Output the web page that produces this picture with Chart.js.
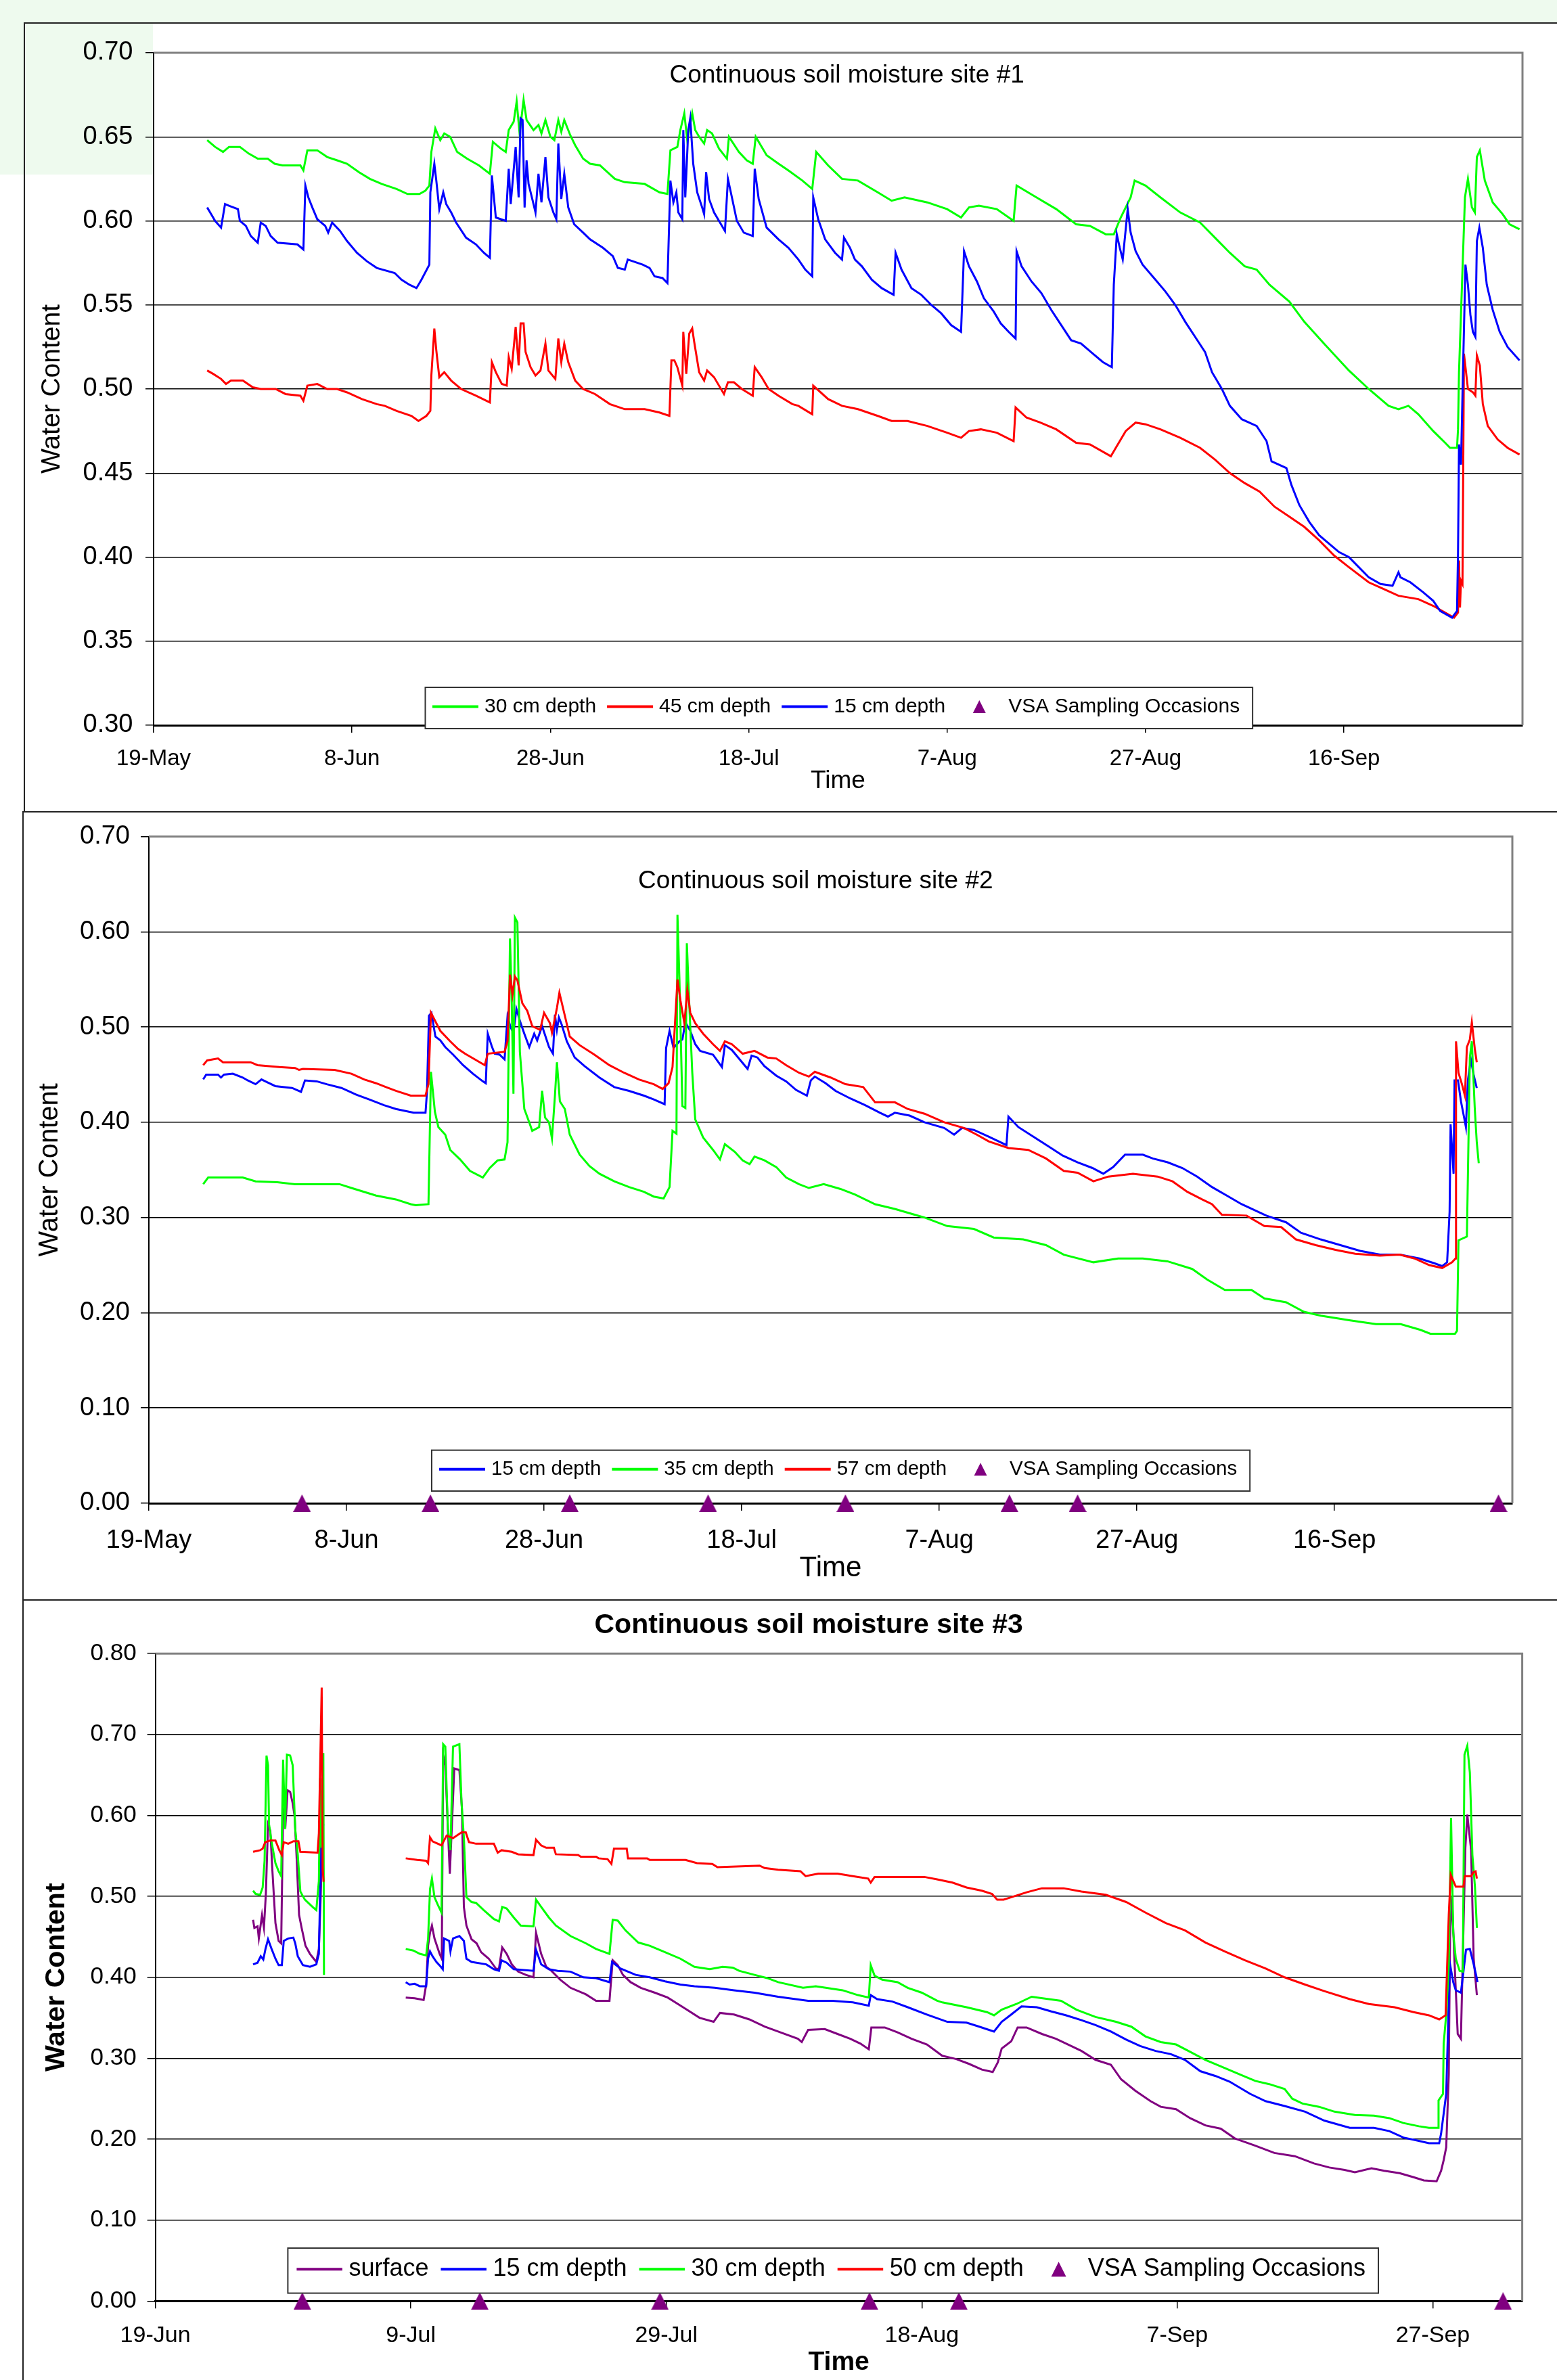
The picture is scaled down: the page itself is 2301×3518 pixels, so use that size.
<!DOCTYPE html>
<html>
<head>
<meta charset="utf-8">
<title>Continuous soil moisture</title>
<script src="https://cdn.jsdelivr.net/npm/chart.js@4.4.0/dist/chart.umd.min.js"></script>
<style>
  body { margin: 0; width: 2301px; height: 3518px; background: #fff; position: relative; overflow: hidden; }
  .bg { position: absolute; background: #eefaee; }
  .frame { position: absolute; border: 2px solid #222; box-sizing: border-box; }
  canvas { position: absolute; }
</style>
</head>
<body>
<div class="bg" style="left:0;top:0;width:2301px;height:33px"></div>
<div class="bg" style="left:0;top:0;width:226px;height:258px"></div>
<div class="frame" style="left:35px;top:33px;width:2280px;height:1168px"></div>
<div class="frame" style="left:33px;top:1199px;width:2282px;height:1167px"></div>
<div class="frame" style="left:33px;top:2364px;width:2282px;height:1200px"></div>
<canvas id="site1" width="2266" height="1166" style="left:35px;top:33px"></canvas>
<canvas id="site2" width="2268" height="1165" style="left:33px;top:1200px"></canvas>
<canvas id="site3" width="2268" height="1153" style="left:33px;top:2365px"></canvas>
<script>
// x values are days from the first tick date (19-May for sites 1 and 2, 19-Jun for site 3)
const site1TickLabels = ['19-May', '8-Jun', '28-Jun', '18-Jul', '7-Aug', '27-Aug', '16-Sep'];
const site2TickLabels = ['19-May', '8-Jun', '28-Jun', '18-Jul', '7-Aug', '27-Aug', '16-Sep'];
const site3TickLabels = ['19-Jun', '9-Jul', '29-Jul', '18-Aug', '7-Sep', '27-Sep'];

const site1_30cm = [[5.4,0.648],[6.2,0.644],[7.0,0.641],[7.6,0.644],[8.7,0.644],[9.6,0.640],[10.5,0.637],[11.5,0.637],[12.2,0.634],[13.0,0.633],[14.8,0.633],[15.1,0.630],[15.5,0.642],[16.5,0.642],[17.5,0.638],[18.5,0.636],[19.5,0.634],[20.7,0.629],[21.8,0.625],[23.0,0.622],[24.5,0.619],[25.6,0.616],[26.8,0.616],[27.4,0.618],[27.8,0.621],[28.0,0.641],[28.4,0.655],[28.9,0.648],[29.3,0.652],[29.9,0.650],[30.6,0.641],[31.6,0.637],[32.8,0.633],[33.9,0.628],[34.2,0.647],[35.0,0.643],[35.5,0.641],[35.8,0.654],[36.3,0.659],[36.6,0.671],[36.9,0.652],[37.3,0.672],[37.6,0.660],[38.3,0.654],[38.8,0.657],[39.1,0.652],[39.5,0.660],[40.0,0.650],[40.4,0.648],[40.8,0.660],[41.1,0.653],[41.4,0.660],[42.0,0.651],[42.5,0.645],[43.3,0.637],[44.0,0.634],[45.0,0.633],[46.5,0.625],[47.5,0.623],[49.5,0.622],[51.0,0.617],[51.8,0.616],[52.1,0.642],[52.8,0.644],[53.1,0.654],[53.5,0.664],[53.8,0.648],[54.3,0.664],[54.6,0.654],[55.0,0.650],[55.5,0.646],[55.8,0.654],[56.3,0.652],[57.0,0.643],[57.8,0.637],[58.0,0.650],[59.0,0.641],[59.8,0.636],[60.4,0.634],[60.7,0.650],[61.8,0.639],[63.0,0.634],[64.0,0.630],[65.4,0.624],[66.4,0.619],[66.8,0.641],[68.0,0.633],[69.4,0.625],[71.0,0.624],[73.0,0.617],[74.4,0.612],[75.7,0.614],[78.0,0.611],[80.0,0.607],[81.4,0.602],[82.2,0.608],[83.2,0.609],[85.0,0.607],[86.7,0.600],[87.0,0.621],[89.0,0.614],[91.0,0.607],[93.0,0.598],[94.4,0.597],[96.0,0.592],[96.8,0.592],[97.5,0.602],[98.5,0.614],[98.9,0.624],[100.0,0.621],[101.5,0.614],[103.5,0.605],[105.5,0.599],[107.0,0.590],[108.5,0.581],[110.0,0.573],[111.2,0.571],[112.5,0.562],[114.5,0.552],[116.0,0.540],[118.0,0.527],[120.5,0.511],[122.5,0.500],[124.5,0.490],[125.5,0.488],[126.5,0.490],[127.5,0.485],[129.0,0.475],[130.2,0.468],[130.7,0.465],[131.4,0.465],[131.5,0.476],[131.6,0.510],[132.2,0.614],[132.5,0.625],[132.9,0.608],[133.2,0.605],[133.4,0.638],[133.7,0.642],[134.2,0.624],[135.0,0.611],[136.0,0.604],[136.7,0.598],[137.7,0.595]];

const site1_45cm = [[5.4,0.511],[6.0,0.509],[6.8,0.506],[7.3,0.503],[7.8,0.505],[9.0,0.505],[10.0,0.501],[10.8,0.500],[12.3,0.500],[13.3,0.497],[14.8,0.496],[15.1,0.493],[15.5,0.502],[16.5,0.503],[17.5,0.500],[18.5,0.500],[19.5,0.498],[21.0,0.494],[22.5,0.491],[23.3,0.490],[24.5,0.487],[26.0,0.484],[26.7,0.481],[27.5,0.484],[27.9,0.487],[28.0,0.508],[28.3,0.536],[28.5,0.523],[28.8,0.507],[29.3,0.510],[30.0,0.505],[31.0,0.500],[32.5,0.496],[33.9,0.492],[34.1,0.516],[34.5,0.510],[35.1,0.503],[35.6,0.502],[35.8,0.519],[36.1,0.512],[36.5,0.537],[36.8,0.514],[37.0,0.539],[37.3,0.539],[37.5,0.522],[38.0,0.513],[38.5,0.508],[39.0,0.511],[39.5,0.527],[39.8,0.511],[40.5,0.506],[40.8,0.530],[41.1,0.516],[41.4,0.527],[41.8,0.516],[42.5,0.505],[43.3,0.500],[44.5,0.497],[46.0,0.491],[47.5,0.488],[49.5,0.488],[51.0,0.486],[52.0,0.484],[52.2,0.517],[52.5,0.517],[52.8,0.513],[53.3,0.502],[53.4,0.534],[53.7,0.509],[54.0,0.533],[54.3,0.536],[54.5,0.528],[55.0,0.510],[55.5,0.505],[55.8,0.511],[56.5,0.507],[57.5,0.497],[57.9,0.504],[58.5,0.504],[59.3,0.500],[60.4,0.496],[60.6,0.513],[61.3,0.507],[62.0,0.500],[63.0,0.496],[64.4,0.491],[65.0,0.490],[66.4,0.485],[66.5,0.502],[68.0,0.494],[69.4,0.490],[71.0,0.488],[73.0,0.484],[74.4,0.481],[76.0,0.481],[78.0,0.478],[80.0,0.474],[81.4,0.471],[82.2,0.475],[83.4,0.476],[85.0,0.474],[86.7,0.469],[86.9,0.489],[88.0,0.483],[89.4,0.480],[91.0,0.476],[93.0,0.468],[94.4,0.467],[96.5,0.460],[97.0,0.465],[98.0,0.475],[99.0,0.480],[100.0,0.479],[101.5,0.476],[103.5,0.471],[105.5,0.465],[107.0,0.458],[108.5,0.450],[110.0,0.444],[111.5,0.439],[113.0,0.430],[114.5,0.424],[116.0,0.418],[117.5,0.410],[119.0,0.401],[120.5,0.394],[122.5,0.385],[124.0,0.381],[125.5,0.377],[127.5,0.375],[129.0,0.371],[130.2,0.367],[131.1,0.364],[131.5,0.367],[131.6,0.398],[131.7,0.370],[131.8,0.386],[131.95,0.384],[132.1,0.521],[132.5,0.500],[133.0,0.498],[133.25,0.496],[133.4,0.520],[133.7,0.514],[134.0,0.491],[134.5,0.478],[135.5,0.470],[136.5,0.465],[137.7,0.461]];

const site1_15cm = [[5.4,0.608],[5.8,0.604],[6.2,0.600],[6.8,0.596],[7.2,0.610],[7.6,0.609],[8.5,0.607],[8.7,0.600],[9.3,0.597],[9.8,0.591],[10.5,0.587],[10.8,0.599],[11.3,0.597],[11.8,0.591],[12.5,0.587],[14.5,0.586],[15.1,0.583],[15.3,0.621],[15.6,0.614],[16.0,0.608],[16.5,0.601],[17.3,0.597],[17.6,0.593],[18.0,0.599],[18.8,0.594],[19.5,0.588],[20.5,0.581],[21.5,0.576],[22.5,0.572],[24.3,0.569],[25.0,0.565],[25.8,0.562],[26.5,0.560],[27.0,0.565],[27.8,0.574],[27.9,0.617],[28.3,0.634],[28.5,0.624],[28.8,0.607],[29.2,0.617],[29.5,0.610],[30.0,0.605],[30.5,0.599],[31.5,0.590],[32.5,0.586],[33.3,0.581],[33.9,0.578],[34.1,0.627],[34.5,0.602],[35.5,0.600],[35.8,0.631],[36.0,0.610],[36.5,0.644],[36.8,0.614],[37.0,0.661],[37.2,0.660],[37.4,0.608],[37.6,0.636],[37.8,0.622],[38.3,0.610],[38.5,0.605],[38.8,0.628],[39.1,0.611],[39.5,0.638],[39.8,0.614],[40.3,0.605],[40.6,0.601],[40.8,0.646],[41.1,0.613],[41.4,0.628],[41.8,0.608],[42.4,0.598],[43.3,0.593],[44.0,0.589],[45.3,0.584],[46.3,0.579],[46.8,0.572],[47.5,0.571],[47.8,0.577],[49.3,0.574],[50.0,0.572],[50.5,0.567],[51.3,0.566],[51.8,0.563],[52.1,0.624],[52.4,0.611],[52.7,0.617],[52.9,0.605],[53.3,0.601],[53.4,0.654],[53.6,0.614],[53.9,0.654],[54.1,0.661],[54.4,0.634],[54.8,0.617],[55.3,0.608],[55.5,0.604],[55.7,0.629],[56.0,0.613],[56.5,0.605],[57.1,0.599],[57.6,0.594],[57.9,0.625],[58.3,0.614],[58.8,0.600],[59.5,0.593],[60.4,0.591],[60.6,0.631],[61.0,0.613],[61.8,0.596],[63.0,0.589],[64.0,0.584],[65.0,0.577],[65.7,0.571],[66.4,0.567],[66.5,0.614],[67.0,0.601],[67.7,0.589],[68.7,0.581],[69.4,0.577],[69.6,0.590],[70.2,0.584],[70.7,0.577],[71.4,0.573],[72.4,0.565],[73.4,0.560],[74.0,0.558],[74.6,0.556],[74.8,0.581],[75.4,0.571],[76.4,0.560],[77.4,0.556],[78.4,0.550],[79.4,0.545],[80.4,0.538],[81.4,0.534],[81.7,0.582],[82.2,0.573],[83.0,0.564],[83.7,0.554],[84.7,0.546],[85.4,0.539],[86.2,0.534],[86.9,0.530],[87.0,0.582],[87.5,0.573],[88.5,0.564],[89.5,0.557],[90.5,0.547],[91.5,0.538],[92.5,0.529],[93.5,0.527],[94.7,0.521],[95.7,0.516],[96.6,0.513],[96.8,0.562],[97.1,0.592],[97.4,0.584],[97.7,0.577],[98.2,0.607],[98.5,0.593],[99.0,0.582],[99.7,0.574],[101.0,0.565],[102.0,0.558],[103.0,0.550],[104.0,0.540],[105.0,0.531],[106.0,0.522],[106.7,0.510],[107.7,0.500],[108.5,0.490],[109.7,0.482],[111.2,0.478],[112.2,0.469],[112.7,0.457],[114.2,0.453],[114.7,0.443],[115.5,0.431],[116.5,0.421],[117.5,0.413],[118.5,0.408],[119.5,0.403],[120.5,0.400],[121.5,0.394],[122.5,0.388],[123.7,0.384],[124.9,0.383],[125.5,0.391],[125.7,0.388],[126.7,0.385],[128.0,0.379],[129.0,0.374],[129.7,0.368],[130.9,0.364],[131.4,0.368],[131.5,0.402],[131.6,0.467],[131.8,0.455],[132.0,0.510],[132.25,0.574],[132.5,0.562],[132.75,0.544],[133.0,0.534],[133.25,0.531],[133.4,0.588],[133.65,0.596],[134.0,0.584],[134.4,0.562],[135.0,0.547],[135.7,0.534],[136.5,0.525],[137.7,0.517]];

const site2_15cm = [[5.5,0.445],[5.8,0.450],[7.0,0.450],[7.3,0.447],[7.6,0.450],[8.5,0.451],[9.5,0.447],[10.0,0.444],[10.8,0.440],[11.4,0.445],[12.0,0.442],[12.8,0.438],[14.5,0.436],[15.4,0.432],[15.8,0.444],[17.0,0.443],[18.0,0.440],[19.5,0.436],[21.0,0.429],[22.3,0.424],[23.8,0.418],[25.0,0.414],[26.8,0.410],[28.0,0.410],[28.15,0.432],[28.35,0.512],[28.6,0.515],[29.0,0.490],[29.5,0.486],[30.0,0.479],[30.8,0.471],[31.8,0.460],[32.8,0.451],[33.8,0.443],[34.1,0.441],[34.3,0.493],[34.7,0.480],[35.0,0.472],[35.5,0.471],[36.0,0.466],[36.3,0.511],[36.6,0.500],[36.9,0.494],[37.2,0.519],[37.6,0.505],[38.0,0.493],[38.5,0.479],[39.0,0.493],[39.3,0.486],[39.8,0.501],[40.5,0.479],[40.9,0.472],[41.1,0.513],[41.3,0.497],[41.5,0.510],[41.8,0.502],[42.3,0.485],[43.1,0.468],[44.1,0.459],[45.6,0.447],[47.1,0.437],[48.6,0.433],[50.1,0.428],[51.1,0.424],[52.2,0.419],[52.35,0.478],[52.7,0.496],[53.1,0.478],[53.7,0.485],[54.0,0.487],[54.3,0.505],[54.8,0.496],[55.3,0.482],[55.8,0.475],[57.1,0.471],[58.0,0.458],[58.3,0.481],[59.0,0.476],[59.8,0.466],[60.6,0.456],[61.0,0.470],[61.6,0.468],[62.3,0.459],[63.5,0.449],[64.5,0.443],[65.5,0.434],[66.6,0.428],[67.0,0.444],[67.4,0.448],[68.5,0.441],[69.5,0.433],[71.0,0.425],[72.5,0.418],[74.0,0.410],[74.8,0.406],[75.5,0.410],[77.0,0.407],[78.5,0.400],[80.5,0.394],[81.5,0.387],[82.3,0.394],[83.5,0.392],[85.0,0.385],[86.8,0.376],[87.0,0.406],[88.0,0.395],[89.5,0.385],[91.0,0.375],[92.5,0.365],[94.0,0.358],[95.5,0.352],[96.6,0.346],[97.6,0.353],[98.8,0.366],[100.6,0.366],[101.6,0.362],[103.1,0.358],[104.6,0.352],[106.1,0.343],[107.6,0.332],[109.1,0.323],[110.6,0.314],[113.1,0.302],[115.1,0.295],[116.6,0.284],[118.6,0.277],[120.6,0.271],[122.6,0.265],[124.6,0.261],[126.6,0.261],[128.6,0.257],[130.1,0.252],[130.9,0.249],[131.4,0.253],[131.65,0.306],[131.75,0.398],[132.05,0.346],[132.15,0.444],[132.5,0.444],[132.8,0.422],[133.1,0.406],[133.3,0.395],[133.5,0.444],[133.8,0.466],[134.1,0.449],[134.4,0.436]];

const site2_35cm = [[5.5,0.335],[6.0,0.342],[9.5,0.342],[10.8,0.338],[13.0,0.337],[14.8,0.335],[19.3,0.335],[20.5,0.331],[23.0,0.323],[25.0,0.319],[26.5,0.314],[27.0,0.313],[28.3,0.314],[28.55,0.453],[28.95,0.411],[29.3,0.395],[30.0,0.387],[30.5,0.371],[31.5,0.361],[32.5,0.349],[33.8,0.342],[34.5,0.352],[35.3,0.360],[36.0,0.361],[36.3,0.379],[36.55,0.593],[36.7,0.540],[36.9,0.430],[37.05,0.615],[37.3,0.610],[37.55,0.474],[38.0,0.414],[38.5,0.400],[38.8,0.391],[39.5,0.395],[39.8,0.433],[40.1,0.405],[40.5,0.400],[40.8,0.383],[41.1,0.428],[41.3,0.463],[41.6,0.422],[42.1,0.414],[42.6,0.387],[43.6,0.366],[44.6,0.354],[45.6,0.346],[47.1,0.338],[48.6,0.332],[50.1,0.327],[51.1,0.322],[52.1,0.320],[52.7,0.332],[53.0,0.391],[53.4,0.388],[53.5,0.618],[53.7,0.550],[54.0,0.417],[54.3,0.415],[54.45,0.588],[54.7,0.523],[55.0,0.452],[55.3,0.403],[56.1,0.384],[57.1,0.371],[57.8,0.361],[58.3,0.377],[59.3,0.369],[60.1,0.360],[60.8,0.356],[61.3,0.364],[62.3,0.360],[63.5,0.353],[64.5,0.342],[65.8,0.335],[66.8,0.331],[68.3,0.335],[70.0,0.330],[71.5,0.324],[73.5,0.314],[75.5,0.309],[78.5,0.300],[80.8,0.291],[83.5,0.288],[85.5,0.279],[88.5,0.277],[90.8,0.271],[92.6,0.261],[95.6,0.253],[98.1,0.257],[100.6,0.257],[103.1,0.254],[105.6,0.246],[107.1,0.235],[108.9,0.224],[111.6,0.224],[112.9,0.215],[115.1,0.211],[116.9,0.201],[118.6,0.197],[121.6,0.192],[124.2,0.188],[126.7,0.188],[128.7,0.182],[129.7,0.178],[132.2,0.178],[132.4,0.181],[132.55,0.276],[133.4,0.280],[133.7,0.468],[133.9,0.485],[134.2,0.414],[134.4,0.379],[134.6,0.357]];

const site2_57cm = [[5.5,0.460],[5.9,0.465],[7.0,0.467],[7.5,0.463],[10.3,0.463],[11.0,0.460],[13.2,0.458],[14.8,0.457],[15.2,0.455],[15.6,0.456],[18.8,0.455],[20.5,0.451],[21.8,0.445],[23.0,0.441],[24.0,0.437],[25.0,0.433],[26.5,0.428],[28.0,0.428],[28.3,0.440],[28.55,0.515],[29.0,0.506],[29.5,0.496],[30.5,0.485],[31.3,0.477],[32.0,0.472],[33.0,0.466],[34.0,0.460],[34.3,0.472],[36.0,0.474],[36.3,0.485],[36.55,0.555],[36.8,0.534],[37.05,0.553],[37.3,0.549],[37.8,0.525],[38.3,0.517],[38.8,0.501],[39.6,0.497],[40.0,0.515],[40.6,0.504],[40.8,0.494],[41.3,0.520],[41.55,0.536],[42.1,0.512],[42.6,0.490],[43.6,0.481],[45.1,0.471],[46.6,0.460],[48.1,0.452],[49.6,0.445],[51.1,0.440],[52.0,0.435],[52.6,0.441],[53.0,0.458],[53.5,0.550],[53.8,0.528],[54.2,0.504],[54.5,0.539],[54.8,0.515],[55.3,0.504],[56.1,0.493],[57.1,0.482],[57.8,0.475],[58.3,0.485],[59.0,0.482],[60.1,0.472],[61.3,0.475],[62.6,0.468],[63.5,0.467],[64.5,0.460],[65.8,0.452],[66.8,0.448],[67.4,0.453],[69.0,0.447],[70.5,0.440],[72.3,0.437],[73.5,0.421],[75.5,0.421],[76.8,0.414],[78.5,0.409],[80.5,0.400],[82.5,0.394],[83.8,0.387],[85.0,0.380],[87.0,0.373],[89.0,0.371],[90.8,0.362],[92.6,0.349],[94.0,0.347],[95.6,0.338],[97.1,0.343],[99.6,0.346],[102.1,0.343],[103.6,0.338],[105.1,0.327],[106.6,0.319],[107.6,0.314],[108.6,0.303],[111.1,0.302],[112.9,0.291],[114.6,0.290],[116.1,0.277],[118.1,0.271],[120.1,0.266],[122.1,0.262],[124.6,0.260],[126.6,0.261],[128.1,0.257],[129.6,0.250],[130.9,0.247],[131.9,0.253],[132.25,0.257],[132.3,0.485],[132.55,0.452],[132.9,0.440],[133.2,0.428],[133.4,0.479],[133.7,0.487],[133.9,0.505],[134.2,0.477],[134.4,0.463]];

const site2_vsaDays = [15.5, 28.5, 42.6, 56.6, 70.5, 87.1, 94.0, 136.6];

const site3_surface = [[7.65,0.471],[7.75,0.461],[8.0,0.463],[8.1,0.448],[8.35,0.477],[8.5,0.461],[8.65,0.503],[8.82,0.589],[9.0,0.581],[9.15,0.535],[9.4,0.467],[9.65,0.445],[9.85,0.442],[10.0,0.605],[10.2,0.592],[10.35,0.631],[10.55,0.629],[10.75,0.615],[10.9,0.599],[11.05,0.551],[11.25,0.477],[11.45,0.461],[11.75,0.439],[12.1,0.429],[12.6,0.419],[12.8,0.435],[12.95,0.503],[13.1,0.583],[16,null],[19.6,0.375],[20.3,0.374],[21.0,0.372],[21.2,0.391],[21.35,0.439],[21.5,0.455],[21.65,0.464],[21.85,0.448],[22.25,0.429],[22.42,0.423],[22.53,0.674],[22.7,0.662],[22.9,0.583],[23.05,0.528],[23.2,0.583],[23.4,0.658],[23.8,0.656],[24.0,0.608],[24.15,0.487],[24.35,0.464],[24.75,0.447],[25.15,0.442],[25.5,0.431],[26.1,0.423],[26.7,0.410],[26.9,0.411],[27.15,0.437],[27.5,0.429],[27.9,0.416],[28.4,0.407],[29.0,0.403],[29.6,0.400],[29.8,0.455],[30.2,0.429],[30.6,0.413],[31.0,0.408],[31.7,0.397],[32.5,0.387],[33.7,0.379],[34.5,0.371],[35.55,0.371],[35.8,0.421],[36.2,0.415],[36.6,0.403],[37.2,0.394],[38.0,0.387],[39.1,0.381],[40.1,0.375],[40.7,0.369],[41.6,0.360],[42.6,0.350],[43.7,0.345],[44.2,0.356],[45.3,0.354],[46.5,0.348],[47.7,0.339],[48.75,0.333],[50.3,0.324],[50.6,0.320],[51.1,0.335],[52.4,0.336],[53.4,0.330],[54.4,0.324],[55.2,0.318],[55.85,0.311],[56.05,0.338],[57.1,0.338],[58.1,0.332],[59.2,0.324],[60.4,0.317],[61.6,0.303],[62.7,0.299],[63.7,0.293],[64.7,0.286],[65.55,0.283],[65.95,0.295],[66.25,0.312],[67.0,0.321],[67.5,0.338],[68.2,0.338],[69.4,0.330],[70.5,0.324],[71.7,0.315],[72.5,0.309],[73.6,0.298],[74.8,0.292],[75.6,0.274],[76.7,0.260],[77.9,0.247],[78.7,0.240],[79.9,0.237],[81.0,0.226],[82.2,0.217],[83.4,0.213],[84.5,0.201],[86.1,0.192],[87.6,0.183],[89.2,0.179],[90.7,0.170],[91.9,0.165],[93.1,0.162],[93.9,0.159],[95.2,0.164],[96.2,0.161],[97.4,0.158],[98.5,0.153],[99.3,0.149],[100.3,0.148],[100.65,0.161],[100.85,0.174],[101.05,0.190],[101.25,0.280],[101.35,0.450],[101.5,0.500],[101.7,0.420],[101.95,0.330],[102.2,0.324],[102.4,0.460],[102.55,0.560],[102.7,0.601],[103.0,0.557],[103.2,0.423],[103.45,0.378]];

const site3_15cm = [[7.65,0.416],[8.0,0.418],[8.25,0.426],[8.45,0.422],[8.62,0.435],[8.82,0.447],[9.1,0.435],[9.4,0.423],[9.65,0.415],[9.9,0.415],[10.05,0.445],[10.4,0.448],[10.8,0.449],[10.95,0.442],[11.15,0.426],[11.55,0.415],[12.1,0.413],[12.6,0.416],[12.8,0.429],[13.0,0.583],[13.17,0.589],[16,null],[19.6,0.394],[19.9,0.391],[20.3,0.392],[20.7,0.389],[21.2,0.389],[21.35,0.423],[21.5,0.432],[21.7,0.426],[22.0,0.419],[22.35,0.413],[22.5,0.410],[22.6,0.448],[23.0,0.445],[23.1,0.432],[23.3,0.448],[23.8,0.451],[24.15,0.445],[24.35,0.423],[24.75,0.419],[25.9,0.416],[26.5,0.410],[26.9,0.408],[27.1,0.421],[27.5,0.418],[28.05,0.410],[29.6,0.408],[29.8,0.434],[30.2,0.416],[30.8,0.410],[31.5,0.408],[32.5,0.407],[33.5,0.400],[34.5,0.399],[35.55,0.394],[35.75,0.419],[36.4,0.411],[37.6,0.403],[38.7,0.400],[39.9,0.395],[41.1,0.391],[42.2,0.389],[43.8,0.387],[45.3,0.384],[46.9,0.381],[48.75,0.376],[51.1,0.371],[53.0,0.371],[54.6,0.369],[55.85,0.365],[56.0,0.378],[56.5,0.373],[57.7,0.370],[58.9,0.363],[60.4,0.354],[62.0,0.345],[63.5,0.344],[64.5,0.339],[65.65,0.333],[66.25,0.345],[67.0,0.354],[67.8,0.364],[69.0,0.363],[70.1,0.358],[71.3,0.353],[72.5,0.347],[73.6,0.341],[74.8,0.333],[76.0,0.323],[77.1,0.315],[78.3,0.309],[79.5,0.305],[80.6,0.298],[81.8,0.284],[83.0,0.278],[84.1,0.271],[85.7,0.256],[86.9,0.247],[88.4,0.241],[90.0,0.234],[91.5,0.223],[93.5,0.214],[95.4,0.214],[96.6,0.210],[97.7,0.202],[98.9,0.198],[99.7,0.195],[100.5,0.195],[100.65,0.207],[101.05,0.256],[101.25,0.369],[101.35,0.416],[101.6,0.394],[101.8,0.384],[102.2,0.381],[102.4,0.407],[102.6,0.434],[102.9,0.435],[103.2,0.416],[103.4,0.402],[103.5,0.394]];

const site3_30cm = [[7.65,0.507],[7.85,0.503],[8.2,0.502],[8.4,0.511],[8.55,0.544],[8.7,0.674],[8.82,0.662],[8.9,0.589],[9.1,0.567],[9.4,0.541],[9.65,0.531],[9.85,0.525],[10.0,0.669],[10.15,0.583],[10.3,0.675],[10.55,0.674],[10.75,0.662],[10.95,0.583],[11.15,0.551],[11.35,0.506],[11.7,0.496],[12.3,0.487],[12.6,0.483],[12.8,0.519],[12.9,0.646],[13.0,0.560],[13.15,0.677],[13.2,0.403],[16,null],[19.6,0.435],[20.2,0.433],[20.7,0.429],[21.2,0.427],[21.35,0.448],[21.5,0.509],[21.65,0.522],[21.85,0.499],[22.1,0.490],[22.4,0.480],[22.53,0.688],[22.7,0.685],[22.9,0.583],[23.1,0.557],[23.3,0.685],[23.8,0.688],[23.97,0.615],[24.15,0.573],[24.35,0.499],[24.75,0.493],[25.1,0.492],[25.7,0.483],[26.5,0.472],[26.9,0.469],[27.15,0.487],[27.5,0.485],[28.05,0.474],[28.6,0.464],[29.6,0.463],[29.8,0.496],[30.2,0.487],[30.8,0.474],[31.35,0.464],[32.5,0.451],[33.7,0.442],[34.5,0.435],[35.55,0.429],[35.8,0.471],[36.2,0.470],[36.8,0.458],[37.8,0.443],[38.7,0.439],[39.9,0.431],[41.1,0.423],[42.2,0.413],[43.4,0.410],[44.4,0.413],[45.2,0.412],[45.7,0.408],[46.9,0.403],[47.9,0.399],[48.75,0.394],[50.7,0.387],[51.7,0.389],[53.8,0.384],[55.0,0.378],[55.85,0.375],[56.0,0.415],[56.3,0.402],[56.9,0.397],[58.1,0.394],[58.9,0.387],[60.0,0.381],[61.2,0.371],[61.6,0.369],[63.5,0.363],[65.1,0.357],[65.65,0.353],[66.25,0.360],[67.4,0.367],[68.6,0.376],[70.9,0.371],[72.1,0.360],[73.6,0.351],[75.2,0.345],[76.4,0.339],[77.5,0.327],[78.7,0.320],[79.9,0.317],[81.0,0.308],[82.2,0.298],[83.4,0.290],[84.9,0.280],[86.1,0.272],[87.2,0.268],[88.4,0.262],[89.0,0.250],[89.8,0.244],[91.1,0.240],[92.3,0.234],[93.9,0.230],[95.4,0.229],[96.6,0.226],[97.7,0.220],[98.9,0.216],[99.7,0.214],[100.4,0.214],[100.45,0.248],[100.8,0.256],[100.85,0.318],[101.05,0.354],[101.25,0.416],[101.43,0.597],[101.6,0.455],[101.8,0.423],[102.1,0.408],[102.35,0.407],[102.48,0.675],[102.7,0.686],[102.9,0.653],[103.1,0.551],[103.3,0.512],[103.45,0.461]];

const site3_50cm = [[7.65,0.555],[8.2,0.557],[8.4,0.559],[8.6,0.567],[9.0,0.569],[9.4,0.569],[9.7,0.557],[9.9,0.551],[10.05,0.567],[10.4,0.565],[10.8,0.568],[11.2,0.568],[11.35,0.555],[12.7,0.554],[12.8,0.578],[13.02,0.758],[13.1,0.534],[13.17,0.518],[16,null],[19.6,0.547],[20.5,0.545],[21.2,0.544],[21.35,0.541],[21.5,0.573],[21.7,0.568],[22.4,0.563],[22.8,0.575],[23.3,0.572],[23.97,0.579],[24.3,0.579],[24.55,0.567],[25.1,0.565],[26.5,0.565],[26.8,0.554],[27.1,0.557],[27.9,0.555],[28.4,0.552],[29.6,0.551],[29.8,0.570],[30.2,0.563],[30.6,0.560],[31.2,0.560],[31.35,0.552],[33.1,0.551],[33.3,0.549],[34.5,0.549],[34.7,0.547],[35.4,0.546],[35.7,0.540],[35.9,0.559],[36.9,0.559],[37.0,0.547],[38.5,0.547],[38.7,0.545],[41.5,0.545],[42.4,0.541],[43.6,0.540],[44.0,0.536],[47.3,0.538],[47.7,0.535],[48.75,0.533],[50.5,0.531],[50.9,0.525],[51.9,0.528],[53.4,0.528],[54.6,0.525],[55.8,0.522],[56.0,0.517],[56.3,0.524],[60.2,0.524],[61.2,0.521],[62.4,0.517],[63.5,0.511],[64.7,0.507],[65.5,0.503],[65.9,0.496],[66.4,0.496],[67.0,0.499],[68.2,0.505],[69.4,0.510],[71.1,0.510],[72.5,0.506],[74.4,0.502],[76.0,0.493],[77.5,0.480],[79.1,0.467],[80.6,0.458],[82.2,0.443],[83.7,0.432],[85.3,0.421],[86.9,0.411],[88.4,0.400],[90.0,0.391],[91.5,0.383],[93.5,0.373],[95.0,0.367],[97.0,0.363],[98.5,0.357],[99.7,0.353],[100.5,0.348],[101.0,0.353],[101.25,0.477],[101.4,0.527],[101.8,0.512],[102.4,0.512],[102.5,0.525],[103.0,0.525],[103.2,0.530],[103.35,0.531],[103.45,0.522]];

const site3_vsaDays = [11.5, 25.4, 39.5, 55.9, 62.9, 105.5];

Chart.defaults.font.family = '"Liberation Sans", Arial, sans-serif';
Chart.defaults.color = '#000';

// purple VSA marker, an upright triangle centred on its point
function triangleImage(size) {
  const c = document.createElement('canvas');
  c.width = size; c.height = size;
  const t = c.getContext('2d');
  t.fillStyle = '#800080';
  t.beginPath();
  t.moveTo(size / 2, 0);
  t.lineTo(size, size);
  t.lineTo(0, size);
  t.closePath();
  t.fill();
  return c;
}
const vsaMarker = triangleImage(26);

function lineSet(label, pairs, color, order) {
  return {
    label: label,
    data: pairs.map(p => ({ x: p[0], y: p[1] })),
    borderColor: color,
    backgroundColor: color,
    borderWidth: 3,
    pointRadius: 0,
    tension: 0,
    spanGaps: false,
    order: order
  };
}

function vsaSet(days) {
  return {
    label: 'VSA Sampling Occasions',
    data: days.map(d => ({ x: d, y: 0 })),
    showLine: false,
    pointStyle: vsaMarker,
    pointRadius: 13,
    borderWidth: 0,
    clip: false,
    isMarker: true,
    order: -10
  };
}

// grey frame on the top and right of the plot area
const plotFrame = {
  id: 'plotFrame',
  beforeDatasetsDraw(chart) {
    const { left, top, right, bottom } = chart.chartArea;
    const ctx = chart.ctx;
    ctx.save();
    ctx.strokeStyle = '#808080';
    ctx.lineWidth = 3;
    ctx.beginPath();
    ctx.moveTo(left, top);
    ctx.lineTo(right, top);
    ctx.lineTo(right, bottom);
    ctx.stroke();
    ctx.restore();
  }
};

const panelTitle = {
  id: 'panelTitle',
  afterDraw(chart, args, o) {
    const { left, top, right } = chart.chartArea;
    const ctx = chart.ctx;
    ctx.save();
    ctx.font = o.font;
    ctx.fillStyle = '#000';
    ctx.textAlign = 'center';
    ctx.textBaseline = 'middle';
    ctx.fillText(o.text, left + o.fx * (right - left), top + o.dy);
    ctx.restore();
  }
};

const boxLegend = {
  id: 'boxLegend',
  afterDraw(chart, args, o) {
    const ctx = chart.ctx;
    const sets = chart.data.datasets;
    ctx.save();
    ctx.font = o.size + 'px "Liberation Sans", Arial, sans-serif';
    const widths = sets.map(d => ctx.measureText(d.label).width);
    let w = o.padLeft + o.padRight + (sets.length - 1) * o.itemGap;
    widths.forEach(tw => { w += o.key + o.gap + tw; });
    ctx.fillStyle = '#fff';
    ctx.fillRect(o.x, o.y, w, o.h);
    ctx.strokeStyle = '#333';
    ctx.lineWidth = 2;
    ctx.strokeRect(o.x, o.y, w, o.h);
    const cy = o.y + o.h / 2 - 2;
    let x = o.x + o.padLeft;
    sets.forEach((d, i) => {
      if (d.isMarker) {
        const s = o.tri, cx = x + o.key / 2;
        ctx.fillStyle = '#800080';
        ctx.beginPath();
        ctx.moveTo(cx, cy - s / 2);
        ctx.lineTo(cx + s / 2, cy + s / 2);
        ctx.lineTo(cx - s / 2, cy + s / 2);
        ctx.closePath();
        ctx.fill();
      } else {
        ctx.strokeStyle = d.borderColor;
        ctx.lineWidth = 4;
        ctx.beginPath();
        ctx.moveTo(x, cy);
        ctx.lineTo(x + o.key, cy);
        ctx.stroke();
      }
      x += o.key + o.gap;
      ctx.fillStyle = '#000';
      ctx.textBaseline = 'middle';
      ctx.textAlign = 'left';
      ctx.fillText(d.label, x, cy);
      x += widths[i] + o.itemGap;
    });
    ctx.restore();
  }
};

function axes(p) {
  return {
    x: {
      type: 'linear',
      min: 0,
      max: p.xMax,
      afterFit: s => { s.height = p.xHeight; },
      border: { display: true, color: '#000', width: 3 },
      grid: { display: true, drawOnChartArea: false, drawTicks: true, tickLength: 11, color: '#000', lineWidth: 1.5 },
      ticks: {
        stepSize: 20,
        includeBounds: false,
        maxRotation: 0,
        autoSkip: false,
        padding: p.xPad,
        font: { size: p.xFont, lineHeight: 1 },
        callback: v => p.labels[Math.round(v / 20)]
      },
      title: {
        display: true,
        text: 'Time',
        font: { size: p.timeFont, weight: p.bold ? 'bold' : 'normal', lineHeight: 1 },
        padding: { top: 0, bottom: p.timePad }
      }
    },
    y: {
      min: p.yMin,
      max: p.yMax,
      afterFit: s => { s.width = p.yWidth; },
      border: { display: true, color: '#000', width: 2 },
      grid: { color: '#000', lineWidth: 1.5, tickLength: 12 },
      ticks: {
        stepSize: p.yStep,
        padding: p.yPad,
        font: { size: p.yFont, lineHeight: 1 },
        callback: v => v.toFixed(2)
      },
      title: {
        display: true,
        text: 'Water Content',
        font: { size: p.wcFont, weight: p.bold ? 'bold' : 'normal', lineHeight: 1 },
        padding: { top: p.wcPad, bottom: 0 }
      }
    }
  };
}

new Chart(document.getElementById('site1').getContext('2d'), {
  type: 'line',
  data: {
    datasets: [
      lineSet('30 cm depth', site1_30cm, '#00ff00', 0),
      lineSet('45 cm depth', site1_45cm, '#ff0000', -1),
      lineSet('15 cm depth', site1_15cm, '#0000ff', -2),
      vsaSet([])
    ]
  },
  options: {
    responsive: false,
    animation: false,
    devicePixelRatio: 1,
    layout: { padding: { left: 0, top: 45, right: 51, bottom: 0 } },
    scales: axes({ xMax: 138, xHeight: 127, xPad: 22.5, xFont: 33, labels: site1TickLabels, timeFont: 37, timePad: 25.5,
                   yMin: 0.3, yMax: 0.7, yStep: 0.05, yWidth: 192, yPad: 18.5, yFont: 38, wcFont: 39, wcPad: 22.5, bold: false }),
    plugins: {
      legend: { display: false },
      tooltip: { enabled: false },
      panelTitle: { text: 'Continuous soil moisture site #1', font: '37px "Liberation Sans", Arial, sans-serif', fx: 0.5065, dy: 34 },
      boxLegend: { x: 593.5, y: 983, h: 61, size: 30, key: 68, gap: 9, itemGap: 16, padLeft: 10.5, padRight: 19, tri: 19 }
    }
  },
  plugins: [plotFrame, panelTitle, boxLegend]
});

new Chart(document.getElementById('site2').getContext('2d'), {
  type: 'line',
  data: {
    datasets: [
      lineSet('15 cm depth', site2_15cm, '#0000ff', 0),
      lineSet('35 cm depth', site2_35cm, '#00ff00', -1),
      lineSet('57 cm depth', site2_57cm, '#ff0000', -2),
      vsaSet(site2_vsaDays)
    ]
  },
  options: {
    responsive: false,
    animation: false,
    devicePixelRatio: 1,
    layout: { padding: { left: 0, top: 36.6, right: 66, bottom: 0 } },
    scales: axes({ xMax: 138, xHeight: 143, xPad: 25.5, xFont: 38, labels: site2TickLabels, timeFont: 42, timePad: 26,
                   yMin: 0, yMax: 0.7, yStep: 0.1, yWidth: 187, yPad: 16, yFont: 38, wcFont: 40, wcPad: 20.5, bold: false }),
    plugins: {
      legend: { display: false },
      tooltip: { enabled: false },
      panelTitle: { text: 'Continuous soil moisture site #2', font: '37px "Liberation Sans", Arial, sans-serif', fx: 0.489, dy: 66 },
      boxLegend: { x: 605, y: 943.6, h: 60.4, size: 29.5, key: 68, gap: 9, itemGap: 16, padLeft: 11, padRight: 19, tri: 19 }
    }
  },
  plugins: [plotFrame, panelTitle, boxLegend]
});

new Chart(document.getElementById('site3').getContext('2d'), {
  type: 'line',
  data: {
    datasets: [
      lineSet('surface', site3_surface, '#800080', 0),
      lineSet('15 cm depth', site3_15cm, '#0000ff', -1),
      lineSet('30 cm depth', site3_30cm, '#00ff00', -2),
      lineSet('50 cm depth', site3_50cm, '#ff0000', -3),
      vsaSet(site3_vsaDays)
    ]
  },
  options: {
    responsive: false,
    animation: false,
    devicePixelRatio: 1,
    layout: { padding: { left: 0, top: 79.2, right: 51.4, bottom: 0 } },
    scales: axes({ xMax: 107, xHeight: 116.7, xPad: 23.6, xFont: 34, labels: site3TickLabels, timeFont: 39, timePad: 6.5,
                   yMin: 0, yMax: 0.8, yStep: 0.1, yWidth: 196.6, yPad: 16, yFont: 35, wcFont: 41, wcPad: 30.5, bold: true }),
    plugins: {
      legend: { display: false },
      tooltip: { enabled: false },
      panelTitle: { text: 'Continuous soil moisture site #3', font: 'bold 41px "Liberation Sans", Arial, sans-serif', fx: 0.478, dy: -42 },
      boxLegend: { x: 392.4, y: 958, h: 66.6, size: 36, key: 67.5, gap: 9.5, itemGap: 18, padLeft: 13, padRight: 19, tri: 22 }
    }
  },
  plugins: [plotFrame, panelTitle, boxLegend]
});
</script>
</body>
</html>
